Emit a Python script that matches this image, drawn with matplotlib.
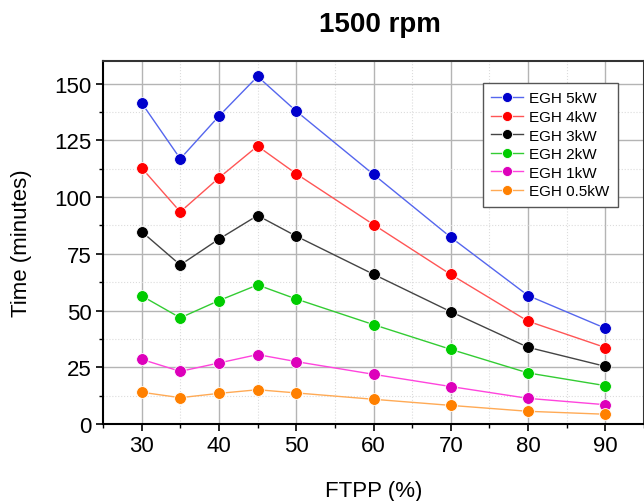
import matplotlib
matplotlib.use("Agg")
import matplotlib.pyplot as plt
from matplotlib.ticker import MultipleLocator

plt.rcParams['font.family'] = ['Liberation Sans', 'DejaVu Sans']

ftpp = [30, 35, 40, 45, 50, 60, 70, 80, 90]
egh_5kw = [141.5, 116.9, 135.7, 153.2, 137.9, 110.0, 82.3, 56.6, 42.2]
egh_4kw = [112.9, 93.5, 108.5, 122.5, 110.3, 87.9, 65.9, 45.3, 33.7]
egh_3kw = [84.8, 70.1, 81.5, 91.9, 82.8, 66.0, 49.5, 33.8, 25.4]
egh_2kw = [56.5, 46.8, 54.4, 61.3, 55.1, 43.8, 32.9, 22.5, 16.9]
egh_1kw = [28.5, 23.2, 26.9, 30.6, 27.5, 21.9, 16.5, 11.3, 8.5]
egh_05kw = [14.0, 11.6, 13.5, 15.1, 13.7, 10.9, 8.2, 5.6, 4.3]

labels = ["EGH 5kW", "EGH 4kW", "EGH 3kW", "EGH 2kW", "EGH 1kW", "EGH 0.5kW"]
series = [egh_5kw, egh_4kw, egh_3kw, egh_2kw, egh_1kw, egh_05kw]
marker_colors = ["#0000cc", "#ff0000", "#000000", "#00cc00", "#dd00bb", "#ff8000"]
line_colors = ["#5566ee", "#ff5555", "#444444", "#33cc33", "#ff44dd", "#ffaa55"]

fig = plt.figure(figsize=(6.44, 5.02), dpi=100)
ax = fig.add_axes([103/644, 77/502, 541/644, 363/502])

for y, lab, mc, lc in zip(series, labels, marker_colors, line_colors):
    ax.plot(ftpp, y, '-', color=lc, lw=1.0, marker='o', markersize=8.5,
            markerfacecolor=mc, markeredgecolor='white', markeredgewidth=0.6,
            label=lab, zorder=3)

ax.set_xlim(25, 95)
ax.set_ylim(0, 160)
ax.xaxis.set_major_locator(MultipleLocator(10))
ax.xaxis.set_minor_locator(MultipleLocator(5))
ax.yaxis.set_major_locator(MultipleLocator(25))
ax.yaxis.set_minor_locator(MultipleLocator(12.5))
ax.set_xticks([30, 40, 50, 60, 70, 80, 90])

ax.grid(which='major', color='#b4b4b4', lw=1.0, ls='-', zorder=0)
ax.grid(which='minor', color='#dcdcdc', lw=0.8, ls=':', zorder=0)
ax.set_axisbelow(True)

ax.tick_params(which='major', direction='out', length=5, width=1.2, labelsize=16, pad=3)
ax.tick_params(which='minor', direction='out', length=3, width=1.0)
ax.tick_params(top=False, right=False, which='both')

for s in ['left', 'bottom']:
    ax.spines[s].set_linewidth(1.5)
    ax.spines[s].set_color('black')
for s in ['top', 'right']:
    ax.spines[s].set_linewidth(1.5)
    ax.spines[s].set_color('#333333')

ax.set_xlabel("FTPP (%)", fontsize=16, labelpad=17)
ax.set_ylabel("Time (minutes)", fontsize=16, labelpad=16)
fig.text(380/644, 1 - 25/502, "1500 rpm", fontsize=20, fontweight='bold', ha='center', va='center')

leg = ax.legend(loc='upper right',
                bbox_to_anchor=((618 - 103) / 541, 1 - (84 - 62) / 363),
                bbox_transform=ax.transAxes, borderaxespad=0,
                fontsize=11, frameon=True, fancybox=False,
                edgecolor='#555555', framealpha=1, handlelength=2.1, handletextpad=0.4,
                borderpad=0.55, labelspacing=0.3, markerscale=0.85)
leg.get_frame().set_linewidth(1.0)

fig.savefig("out.png", dpi=100)
